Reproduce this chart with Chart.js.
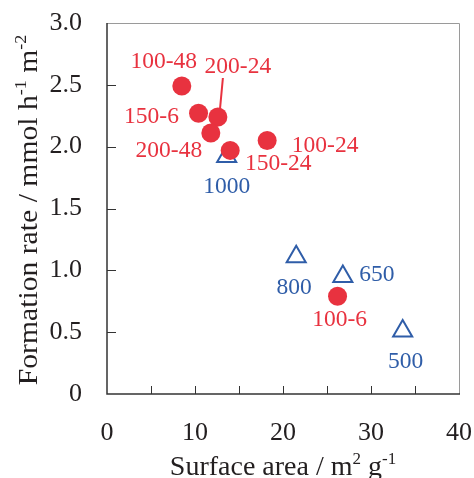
<!DOCTYPE html>
<html><head><meta charset="utf-8">
<script src="https://cdn.jsdelivr.net/npm/chart.js@4"></script>
<style>html,body{margin:0;padding:0;background:#fff}#wrap{width:474px;height:478px}</style>
</head><body><div id="wrap"><canvas id="c" width="474" height="478"></canvas></div>
<script>
// ---- data ----
const sampleLabels = ['100-48','150-6','200-24','200-48','150-24','100-24','100-6'];
const sampleArea   = [8.5, 10.4, 12.6, 11.8, 14.0, 18.2, 26.2];
const sampleRate   = [2.49, 2.27, 2.24, 2.11, 1.97, 2.05, 0.79];
const refLabels = ['1000','800','650','500'];
const refArea   = [13.6, 21.5, 26.8, 33.6];
const refRate   = [1.92, 1.11, 0.95, 0.51];
const xTickValues = [0, 10, 20, 30, 40];
const yTickValues = [0, 0.5, 1.0, 1.5, 2.0, 2.5, 3.0];
const xTitleParts = [['Surface area / m', false], ['2', true], [' g', false], ['-1', true]];
const yTitleParts = [['Formation rate / mmol h', false], ['-1', true], [' m', false], ['-2', true]];

// ---- styling ----
const RED = '#e8323f';
const BLUE = '#2f5da8';
const INK = '#231f20';
const SERIF = '"Liberation Serif", "Times New Roman", serif';
const sampleOffsets = [[-18,-24],[-47,4],[20,-50],[-42,18],[48,13],[58,5],[2,24]];
const refOffsets = [[0,30],[-2,31],[34,-2],[3,31]];

const toPts = (xs, ys) => xs.map((x, i) => ({x, y: ys[i]}));

function drawRich(ctx, parts, cx, baseY, size) {
  const normal = size + 'px ' + SERIF;
  const sup = Math.round(size * 0.62) + 'px ' + SERIF;
  let total = 0;
  parts.forEach(([t, s]) => { ctx.font = s ? sup : normal; total += ctx.measureText(t).width; });
  let x = cx - total / 2;
  ctx.textAlign = 'left';
  ctx.textBaseline = 'alphabetic';
  parts.forEach(([t, s]) => {
    ctx.font = s ? sup : normal;
    ctx.fillText(t, x, s ? baseY - size * 0.38 : baseY);
    x += ctx.measureText(t).width;
  });
}

const deco = {
  id: 'deco',
  beforeDatasetsDraw(chart) {
    const {ctx, chartArea: a, scales: {x, y}} = chart;
    ctx.save();
    ctx.strokeStyle = '#9a9a9a'; ctx.lineWidth = 1;
    ctx.beginPath();
    ctx.moveTo(a.left, a.top + 0.5); ctx.lineTo(a.right + 0.5, a.top + 0.5); ctx.lineTo(a.right + 0.5, a.bottom);
    ctx.stroke();
    ctx.strokeStyle = '#333'; ctx.lineWidth = 1.5;
    ctx.beginPath();
    ctx.moveTo(a.left, a.top); ctx.lineTo(a.left, a.bottom); ctx.lineTo(a.right + 1, a.bottom);
    ctx.stroke();
    ctx.lineWidth = 1;
    ctx.beginPath();
    for (let v = 5; v < 40; v += 5) {
      const px = Math.round(x.getPixelForValue(v)) + 0.5;
      ctx.moveTo(px, a.bottom); ctx.lineTo(px, a.bottom - 8);
    }
    for (let v = 0.5; v < 3; v += 0.5) {
      const py = Math.round(y.getPixelForValue(v)) + 0.5;
      ctx.moveTo(a.left, py); ctx.lineTo(a.left + 9, py);
    }
    ctx.stroke();
    ctx.restore();
  },
  afterDatasetsDraw(chart) {
    const {ctx} = chart;
    ctx.save();
    ctx.font = '23.5px ' + SERIF;
    ctx.textAlign = 'center'; ctx.textBaseline = 'middle';
    const m0 = chart.getDatasetMeta(0).data;
    const m1 = chart.getDatasetMeta(1).data;
    ctx.fillStyle = RED;
    m0.forEach((el, i) => {
      ctx.fillText(sampleLabels[i], el.x + sampleOffsets[i][0], el.y + sampleOffsets[i][1]);
    });
    const p = m0[2];
    ctx.strokeStyle = RED; ctx.lineWidth = 2;
    ctx.beginPath(); ctx.moveTo(p.x + 5, p.y - 39); ctx.lineTo(p.x + 2, p.y - 7); ctx.stroke();
    ctx.fillStyle = BLUE;
    m1.forEach((el, i) => {
      ctx.fillText(refLabels[i], el.x + refOffsets[i][0], el.y + refOffsets[i][1]);
    });
    ctx.restore();
  },
  afterDraw(chart) {
    const {ctx, chartArea: a} = chart;
    ctx.save();
    ctx.fillStyle = INK;
    drawRich(ctx, xTitleParts, (a.left + a.right) / 2, 475, 28);
    ctx.translate(37, 210);
    ctx.rotate(-Math.PI / 2);
    ctx.scale(1.06, 1);
    drawRich(ctx, yTitleParts, 0, 0, 28);
    ctx.restore();
  }
};

new Chart(document.getElementById('c'), {
  type: 'scatter',
  data: {
    datasets: [
      { label: 'samples', data: toPts(sampleArea, sampleRate), pointStyle: 'circle', pointRadius: 9.5,
        backgroundColor: RED, borderColor: RED, borderWidth: 0 },
      { label: 'reference', data: toPts(refArea, refRate), pointStyle: 'triangle', pointRadius: 11,
        backgroundColor: 'rgba(255,255,255,0)', borderColor: BLUE, borderWidth: 2 }
    ]
  },
  options: {
    responsive: false, animation: false,
    layout: { padding: { top: 23, right: 15, left: 0, bottom: 0 } },
    plugins: { legend: { display: false }, tooltip: { enabled: false } },
    scales: {
      x: {
        type: 'linear', min: 0, max: 40,
        afterBuildTicks: s => { s.ticks = xTickValues.map(v => ({value: v})); },
        afterFit: s => { s.height = 84; s.paddingLeft = 0; s.paddingRight = 0; },
        grid: { display: false, drawTicks: false }, border: { display: false },
        ticks: { padding: 24, color: INK, font: { family: SERIF, size: 26 }, callback: v => String(v) }
      },
      y: {
        type: 'linear', min: 0, max: 3,
        afterBuildTicks: s => { s.ticks = yTickValues.map(v => ({value: v})); },
        afterFit: s => { s.width = 107; s.paddingTop = 0; s.paddingBottom = 0; },
        grid: { display: false, drawTicks: false }, border: { display: false },
        ticks: { padding: 25, color: INK, font: { family: SERIF, size: 26 }, callback: v => v === 0 ? '0' : v.toFixed(1) }
      }
    }
  },
  plugins: [deco]
});
</script>
</body></html>
